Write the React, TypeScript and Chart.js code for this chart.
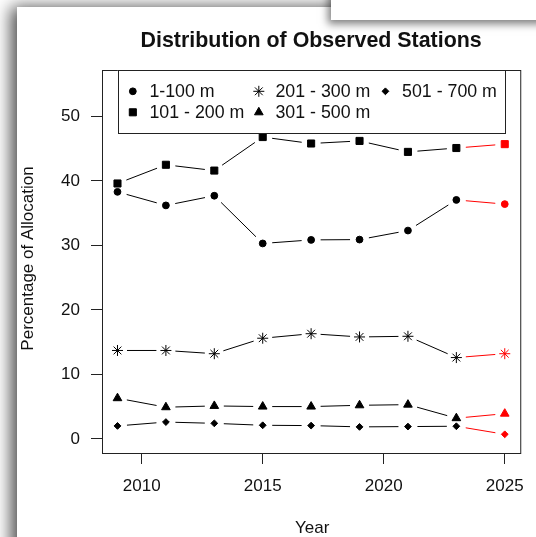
import React, { useEffect, useRef } from 'react';
import { Chart, registerables } from 'chart.js';
import { drawPoint } from 'chart.js/helpers';

Chart.register(...registerables);

// Survey years; the final year is a projection and is drawn in red.
const years = [2009, 2011, 2013, 2015, 2017, 2019, 2021, 2023, 2025];
const projected = [false, false, false, false, false, false, false, false, true];

// Percentage of allocated stations per depth band.
const depth1to100 = [38.3, 36.2, 37.7, 30.3, 30.85, 30.9, 32.3, 37.05, 36.4];
const depth101to200 = [39.6, 42.5, 41.6, 46.8, 45.8, 46.2, 44.5, 45.1, 45.7];
const depth201to300 = [13.7, 13.7, 13.2, 15.6, 16.3, 15.8, 15.9, 12.6, 13.2];
const depth301to500 = [6.3, 4.9, 5.1, 5.0, 5.0, 5.2, 5.3, 3.2, 3.9];
const depth501to700 = [2.0, 2.6, 2.4, 2.1, 2.05, 1.85, 1.9, 1.95, 0.7];

const seriesLabels = ['1-100 m', '101 - 200 m', '201 - 300 m', '301 - 500 m', '501 - 700 m'];
const seriesValues = [depth1to100, depth101to200, depth201to300, depth301to500, depth501to700];
const seriesStyles = ['circle', 'rect', 'star', 'triangle', 'rectRot'];
const seriesRadii = [3.4, 5, 5.5, 5, 3.4];

const xTicks = [2010, 2015, 2020, 2025];
const yTicks = [0, 10, 20, 30, 40, 50];
const xLimits = [2009, 2025];
const yLimits = [0, 55];

const TITLE = 'Distribution of Observed Stations';
const X_TITLE = 'Year';
const Y_TITLE = 'Percentage of Allocation';

const FONT = "'Liberation Sans', Arial, Helvetica, sans-serif";
const INK = '#000000';
const RED = '#ff0000';
const FRAME = '#222222';
const GAP = 9.5;

// axis limits padded by 4% of the range on both sides
const pad = (lim: number[]) => {
  const d = (lim[1] - lim[0]) * 0.04;
  return [lim[0] - d, lim[1] + d];
};
const [xMin, xMax] = pad(xLimits);
const [yMin, yMax] = pad(yLimits);

const colorFor = (i: number) => (projected[i] ? RED : INK);

// connecting segments that stop short of each marker
const gapLines = {
  id: 'gapLines',
  beforeDatasetsDraw(chart: any) {
    const ctx = chart.ctx;
    ctx.save();
    ctx.lineWidth = 1;
    chart.data.datasets.forEach((_ds: any, di: number) => {
      const pts = chart.getDatasetMeta(di).data;
      for (let k = 0; k < pts.length - 1; k++) {
        const a = pts[k];
        const b = pts[k + 1];
        const dx = b.x - a.x;
        const dy = b.y - a.y;
        const len = Math.hypot(dx, dy);
        if (len <= 2 * GAP) continue;
        const ux = dx / len;
        const uy = dy / len;
        ctx.beginPath();
        ctx.strokeStyle = colorFor(k + 1);
        ctx.moveTo(a.x + ux * GAP, a.y + uy * GAP);
        ctx.lineTo(b.x - ux * GAP, b.y - uy * GAP);
        ctx.stroke();
      }
    });
    ctx.restore();
  },
};

// plot frame, titles and the boxed legend
const decorations = {
  id: 'decorations',
  afterDraw(chart: any) {
    const ctx = chart.ctx;
    const area = chart.chartArea;
    const cx = (area.left + area.right) / 2;
    ctx.save();

    ctx.strokeStyle = FRAME;
    ctx.lineWidth = 1;
    ctx.strokeRect(area.left + 0.5, area.top + 0.5, area.right - area.left, area.bottom - area.top);

    ctx.fillStyle = '#111111';
    ctx.textAlign = 'center';
    ctx.textBaseline = 'alphabetic';
    ctx.font = `bold 21.4px ${FONT}`;
    ctx.fillText(TITLE, cx, 47);

    ctx.font = `17px ${FONT}`;
    ctx.fillText(X_TITLE, cx + 1, 533);

    ctx.save();
    ctx.translate(33, (area.top + area.bottom) / 2 - 3);
    ctx.rotate(-Math.PI / 2);
    ctx.fillText(Y_TITLE, 0, 0);
    ctx.restore();

    // legend box, anchored to the top of the plot area
    const boxW = 386.6;
    const boxH = 63;
    const bx = cx - boxW / 2;
    const by = area.top;
    ctx.fillStyle = '#ffffff';
    ctx.fillRect(bx, by, boxW, boxH);
    ctx.strokeStyle = FRAME;
    ctx.strokeRect(Math.round(bx) + 0.5, by + 0.5, Math.round(boxW), boxH);

    const colX = [15, 141, 267.6];
    const rowY = [21.3, 42.3];
    ctx.font = `17.8px ${FONT}`;
    ctx.textAlign = 'left';
    ctx.textBaseline = 'middle';
    seriesLabels.forEach((label, i) => {
      const col = Math.floor(i / 2);
      const row = i % 2;
      const mx = bx + colX[col];
      const my = by + rowY[row];
      ctx.fillStyle = INK;
      ctx.strokeStyle = INK;
      ctx.lineWidth = 1;
      drawPoint(ctx, { pointStyle: seriesStyles[i], radius: seriesRadii[i], rotation: 0, borderWidth: 1 } as any, mx, my);
      ctx.fillStyle = '#111111';
      ctx.fillText(label, mx + 16.6, my + 1);
    });

    ctx.restore();
  },
};

export default function App() {
  const canvasRef = useRef<HTMLCanvasElement | null>(null);

  useEffect(() => {
    if (!canvasRef.current) return;
    const datasets = seriesLabels.map((label, si) => ({
      label,
      data: years.map((yr, i) => ({ x: yr, y: seriesValues[si][i] })),
      showLine: false,
      pointStyle: seriesStyles[si] as any,
      pointRadius: seriesRadii[si],
      pointHoverRadius: seriesRadii[si],
      pointBorderWidth: 1,
      pointBackgroundColor: years.map((_, i) => colorFor(i)),
      pointBorderColor: years.map((_, i) => colorFor(i)),
    }));

    const chart = new Chart(canvasRef.current, {
      type: 'scatter',
      data: { datasets },
      options: {
        animation: false,
        responsive: false,
        events: [],
        layout: { padding: { left: 17, right: 9, top: 70, bottom: 0 } },
        plugins: {
          legend: { display: false },
          tooltip: { enabled: false },
          title: { display: false },
        },
        scales: {
          x: {
            type: 'linear',
            min: xMin,
            max: xMax,
            afterBuildTicks: (s: any) => {
              s.ticks = xTicks.map((v) => ({ value: v }));
            },
            afterFit: (s: any) => {
              s.height = 84;
            },
            border: { display: false },
            grid: { drawOnChartArea: false, drawTicks: true, tickLength: 11, color: FRAME, tickColor: FRAME, lineWidth: 1 },
            ticks: {
              padding: 12,
              color: '#111111',
              font: { family: FONT, size: 17 },
              maxRotation: 0,
              autoSkip: false,
              callback: (v: any) => String(v),
            },
          },
          y: {
            type: 'linear',
            min: yMin,
            max: yMax,
            afterBuildTicks: (s: any) => {
              s.ticks = yTicks.map((v) => ({ value: v }));
            },
            afterFit: (s: any) => {
              s.width = 85;
            },
            border: { display: false },
            grid: { drawOnChartArea: false, drawTicks: true, tickLength: 11, color: FRAME, tickColor: FRAME, lineWidth: 1 },
            ticks: {
              padding: 11,
              color: '#111111',
              font: { family: FONT, size: 17 },
              autoSkip: false,
              callback: (v: any) => String(v),
            },
          },
        },
      },
      plugins: [gapLines, decorations],
    });
    return () => chart.destroy();
  }, []);

  return (
    <div style={{ position: 'fixed', left: 0, top: 0, width: 536, height: 537, overflow: 'hidden', background: '#ffffff' }}>
      <div
        style={{
          position: 'absolute',
          left: 17,
          top: 7,
          width: 600,
          height: 600,
          background: '#ffffff',
          boxShadow: '-6px 0px 16px rgba(0,0,0,0.7)',
        }}
      />
      <canvas ref={canvasRef} width={536} height={537} style={{ position: 'absolute', left: 0, top: 0, width: 536, height: 537 }} />
      <div
        style={{
          position: 'absolute',
          left: 331,
          top: -30,
          width: 260,
          height: 50,
          background: '#ffffff',
          boxShadow: '-3px 4px 8px rgba(0,0,0,0.5)',
        }}
      />
    </div>
  );
}
